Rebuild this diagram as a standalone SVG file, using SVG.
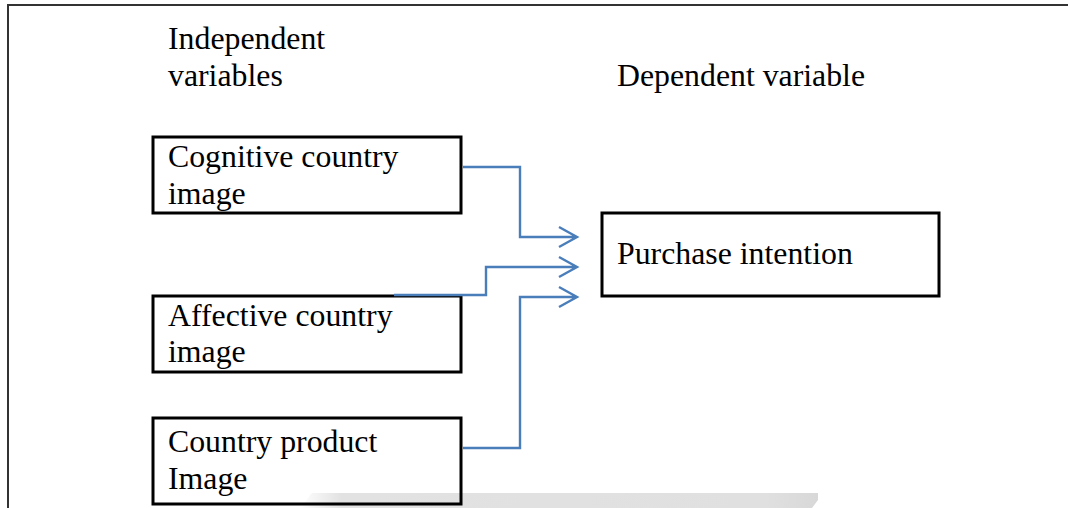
<svg xmlns="http://www.w3.org/2000/svg" width="1068" height="508" viewBox="0 0 1068 508">
<style>
.t{font-family:"Liberation Serif","Times New Roman",serif;font-size:31.8px;fill:#000}
.box{fill:none;stroke:#000;stroke-width:3}
.c{fill:none;stroke:#4a7ebb;stroke-width:2.4}
</style>
<defs>
<linearGradient id="g" x1="0" y1="0" x2="1" y2="0">
<stop offset="0" stop-color="#ffffff"/>
<stop offset="0.08" stop-color="#e2e2e2"/>
<stop offset="0.9" stop-color="#e0e0e0"/>
<stop offset="1" stop-color="#d8d8d8"/>
</linearGradient>
</defs>
<rect width="1068" height="508" fill="#fff"/>
<polygon points="300,508 312,493 818,493 818,500 812,508" fill="url(#g)"/>
<path d="M8,508 V5 H1068" fill="none" stroke="#333" stroke-width="2"/>
<text class="t" x="168" y="49">Independent</text>
<text class="t" x="168" y="86">variables</text>
<text class="t" x="617" y="86">Dependent variable</text>
<g id="n1"><rect class="box" x="153" y="137" width="308" height="76"/><text class="t" x="168" y="167">Cognitive country</text><text class="t" x="168" y="204">image</text></g>
<g id="n2"><rect class="box" x="153" y="296" width="308" height="76"/><text class="t" x="168" y="326">Affective country</text><text class="t" x="168" y="362">image</text></g>
<g id="n3"><rect class="box" x="153" y="418" width="308" height="86"/><text class="t" x="168" y="452">Country product</text><text class="t" x="168" y="489">Image</text></g>
<g id="n4"><rect class="box" x="602" y="213" width="337" height="83"/><text class="t" x="617" y="264">Purchase intention</text></g>
<g id="connectors">
<path class="c" d="M463,167 H520 V237 H577 M559,227 L577,237 L559,247"/>
<path class="c" d="M394,295 H486 V267 H577 M559,257 L577,267 L559,277"/>
<path class="c" d="M463,448 H520 V297 H577 M559,287 L577,297 L559,307"/>
</g>
</svg>
